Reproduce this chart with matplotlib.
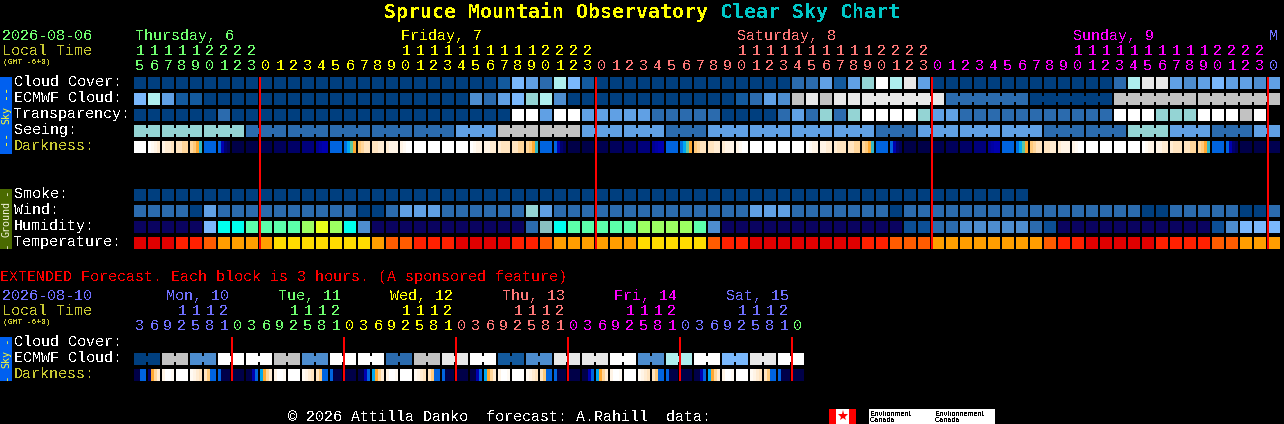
import matplotlib
matplotlib.use("Agg")
import matplotlib.pyplot as plt
from matplotlib.colors import LinearSegmentedColormap

plt.rcParams["font.family"] = "Liberation Mono"
plt.rcParams["text.antialiased"] = False

# cell colours, darkest blue to overcast white
cloud_palette = ["#003f7f", "#135a9e", "#2b6bae", "#4d8dcf", "#60a0e4", "#7ab8fc",
                 "#aeeeee", "#94d4d4", "#c2c2c2", "#e8e8e8", "#ffffff"]
humidity_palette = ["#0a0360", "#0c4f96", "#2b6bae", "#4d8dcf", "#7ab8fc", "#88c0c0",
                    "#00ffee", "#5cffaa", "#9cff62", "#e8ff1a"]
temp_palette = ["#e00000", "#ff2000", "#ff5c00", "#ff9e00", "#ffdc00"]
dark_stops = ["#ffffff", "#fff4e6", "#ffe4c0", "#ffc878", "#ffa830", "#60c8a0",
              "#00a8f0", "#0066e0", "#0000b0", "#000070", "#000048"]

main_hours = list(range(15, 24)) + list(range(24)) * 3 + [0]
main_hour_colors = ["#70ff70"] * 9 + ["#ffff00"] * 24 + ["#ff7878"] * 24 + ["#ff00ff"] * 24 + ["#7070ff"]
main_days = ["Thursday, 6", "Friday, 7", "Saturday, 8", "Sunday, 9", "M"]
main_day_cols = [0, 19, 43, 67, 81]
main_day_colors = ["#70ff70", "#ffff00", "#ff7878", "#ff00ff", "#7070ff"]

ext_hours = [3, 6, 9, 12, 15, 18, 21, 0] * 6
ext_hour_colors = (["#7070ff"] * 7 + ["#70ff70"] * 8 + ["#ffff00"] * 8 + ["#ff7878"] * 8
                   + ["#ff00ff"] * 8 + ["#7070ff"] * 8 + ["#70ff70"])
ext_days = ["Mon, 10", "Tue, 11", "Wed, 12", "Thu, 13", "Fri, 14", "Sat, 15"]
ext_day_colors = ["#7070ff", "#70ff70", "#ffff00", "#ff7878", "#ff00ff", "#7070ff"]

cloud = [0] * 26 + [1, 5, 4, 2, 6, 5, 1] + [0] * 14 + [2, 2, 4, 1, 4, 7, 10, 6, 9, 4] + [0] * 13 + \
    [2, 6, 9, 9, 4, 3, 4, 5, 4, 4, 3, 4]
ecmwf = [5, 6, 4, 1, 1] + [0] * 19 + [3, 2, 4, 5, 7, 6, 3] + [0] * 12 + [1, 2, 4, 3, 8, 9, 8, 9, 9] + [9, 2, 0, 8, 8]
ecmwf_len = [1] * 52 + [6, 6, 6, 6, 6]
transparency = [0] * 6 + [2] + [0] * 20 + [10, 10, 4, 10, 10] + [4] * 5 + [2] * 5 + [0] * 4 + \
    [2, 4, 2, 7, 2, 7, 10, 10, 10, 10, 7, 4, 4] + [2] * 11 + [10, 10, 10, 7, 7, 7, 10, 10, 10, 8, 10]
seeing = [7, 7, 7, 2, 2, 2, 2, 2, 4, 8, 8, 4, 4, 2, 4, 4, 4, 4, 2, 4, 4, 4, 2, 2, 7, 4, 2, 4]
seeing_len = [2] + [3] * 26 + [2]
smoke = [0] * 64
wind = [2, 2, 2, 2, 0, 4] + [2] * 10 + [0, 0, 2, 4, 4, 4] + [2] * 6 + [7, 4] + [2] * 14 + [4, 4, 4] + \
    [2] * 7 + [0] + [2] * 17 + [0, 0] + [2] * 5 + [0, 0, 2]
humidity = [0] * 5 + [4, 6, 6, 7, 7, 7, 7, 8, 9, 8, 6, 3] + [0] * 11 + [2, 5, 6] + [7] * 5 + [8] * 4 + [7, 3] + \
    [0] * 13 + [1, 1, 2, 2, 3, 3, 3, 3, 3, 2, 1] + [0] * 11 + [1, 3, 4, 4, 4]
temperature = [0, 0, 0, 1, 1, 2, 3, 3, 3, 3, 4, 4, 4, 4, 4, 4, 4, 3, 2, 2, 1, 1, 1, 0, 0, 0, 0, 1, 1, 2] + \
    [3] * 6 + [4] * 5 + [2, 1, 1] + [0] * 8 + [1, 1, 2, 2, 2] + [3] * 8 + [2, 1, 1] + [0] * 5 + \
    [1, 1, 1, 1, 2, 2, 3, 3, 3]

# darkness: four readings across each hour block
dark_main = [
    [0, 0, 0, 0], [0, .5, 1, 1.5], [1, 1.5, 1.5, 2], [2, 2, 2.5, 2.5], [2.5, 3, 4, 5.5], [7, 7, 7, 7],
    [7, 8, 9, 9.5], [10, 10, 10, 10], [10, 10, 10, 10], [9.8, 9.8, 9.8, 9.8], [9.5, 9.5, 9.5, 9.5],
    [9.2, 9.2, 9.2, 9.2], [8.8, 8.8, 8.8, 8.8], [8.4, 8.2, 8, 8], [7, 7, 7, 7], [6.8, 6, 5, 4],
    [3, 2.5, 2, 2], [2, 2, 1.5, 1.5], [1.5, 1, 1, 1], [1, .5, 0, 0],
    [0, 0, 0, 0], [0, 0, 0, 0], [0, 0, 0, 0], [0, 0, 0, 0], [0, .5, 1, 1], [1, 1, 1.5, 1.5],
    [1.5, 2, 2, 2], [2, 2, 2.5, 2.5], [2.5, 3, 4, 5.5], [7, 7, 7, 7], [7, 8, 9, 9.5], [10, 10, 10, 10],
    [10, 10, 10, 10], [9.8, 9.8, 9.8, 9.8], [9.5, 9.5, 9.5, 9.5], [9.2, 9.2, 9.2, 9.2], [8.8, 8.8, 8.8, 8.8],
    [8.4, 8.2, 8, 8], [7, 7, 7, 7], [6.8, 6, 5, 4], [3, 2.5, 2, 2], [2, 2, 1.5, 1.5], [1.5, 1, 1, 1],
    [1, .5, 0, 0], [0, 0, 0, 0], [0, 0, 0, 0], [0, 0, 0, 0], [0, 0, 0, 0], [0, .5, 1, 1], [1, 1, 1.5, 1.5],
    [1.5, 2, 2, 2], [2, 2, 2.5, 2.5], [2.5, 3, 4, 5.5], [7, 7, 7, 7], [7, 8, 9, 9.5], [10, 10, 10, 10],
    [10, 10, 10, 10], [9.8, 9.8, 9.8, 9.8], [9.5, 9.5, 9.5, 9.5], [9.2, 9.2, 9.2, 9.2], [8.8, 8.8, 8.8, 8.8],
    [8.4, 8.2, 8, 8], [7, 7, 7, 7], [6.8, 6, 5, 4], [3, 2.5, 2, 2], [2, 2, 1.5, 1.5], [1.5, 1, 1, 1],
    [1, .5, 0, 0], [0, 0, 0, 0], [0, 0, 0, 0], [0, 0, 0, 0], [0, 0, 0, 0], [0, .5, 1, 1], [1, 1, 1.5, 1.5],
    [1.5, 2, 2, 2], [2, 2, 2.5, 2.5], [2.5, 3, 4, 5.5], [7, 7, 7, 7], [7, 8, 9, 9.5], [10, 10, 10, 10],
    [10, 10, 10, 10], [9.8, 9.8, 9.8, 9.8],
]

ext_cloud = [0, 8, 3, 10, 10, 8, 3, 10, 10, 2, 8, 9, 10, 1, 3, 9, 9, 10, 3, 6, 10, 5, 9, 10]
ext_cloud_len = [2] * 24
ext_dark = [
    [10, 10, 7, 7], [9, 4, 2.5, 1.5], [1, 0, 0, .5], [0, 0, 0, 0], [.5, 1, 1.5, 2], [2, 3, 7, 7], [7, 10, 10, 10], [10, 10, 10, 10],
    [10, 10, 8, 7], [6, 4, 2.5, 1.5], [1, 0, 0, .5], [0, 0, 0, 0], [.5, 1, 1.5, 2], [2, 3, 7, 7], [7, 10, 10, 10], [10, 10, 10, 10],
    [10, 10, 8, 7], [6, 4, 2.5, 1.5], [1, 0, 0, .5], [0, 0, 0, 0], [.5, 1, 1.5, 2], [2, 3, 7, 7], [7, 10, 10, 10], [10, 10, 10, 10],
    [10, 10, 8, 7], [6, 4, 2.5, 1.5], [1, 0, 0, .5], [0, 0, 0, 0], [.5, 1, 1.5, 2], [2, 3, 7, 7], [7, 10, 10, 10], [10, 10, 10, 10],
    [10, 10, 8, 7], [6, 4, 2.5, 1.5], [1, 0, 0, .5], [0, 0, 0, 0], [.5, 1, 1.5, 2], [2, 3, 7, 7], [7, 10, 10, 10], [10, 10, 10, 10],
    [10, 10, 8, 7], [6, 4, 2.5, 1.5], [1, 0, 0, .5], [0, 0, 0, 0], [.5, 1, 1.5, 2], [2, 3, 7, 7], [7, 10, 10, 10], [10, 10, 10, 10],
]

LEFT = 134
PITCH = 14
CELL = 12
FONT = 10.8
dark_cmap = LinearSegmentedColormap.from_list("dark", dark_stops)


def rect(ax, x0, x1, y0, y1, color):
    ax.bar(x0, y1 - y0, width=x1 - x0, bottom=y0, align="edge", color=color, linewidth=0, antialiased=False)


def draw_blocks(ax, top, values, palette, lengths=None):
    if lengths is None:
        lengths = [1] * len(values)
    col = 0
    for value, length in zip(values, lengths):
        for i in range(length):
            x = LEFT + PITCH * (col + i)
            rect(ax, x, x + CELL, top, top + CELL, palette[value])
            # joined hours of one model step get a bridge through the gap
            if i < length - 1:
                rect(ax, x + CELL, x + PITCH, top + 3, top + 9, palette[value])
        col += length


def draw_darkness(ax, top, samples):
    for col, readings in enumerate(samples):
        x = LEFT + PITCH * col
        for i, value in enumerate(readings):
            rect(ax, x + i * CELL / 4, x + (i + 1) * CELL / 4, top, top + CELL, dark_cmap(value / 10))


def draw_hours(ax, hours, colors, tens_y, unit_y):
    for col, (hour, color) in enumerate(zip(hours, colors)):
        x = LEFT + PITCH * col + 6
        ax.text(x, unit_y, str(hour % 10), color=color, fontsize=FONT, ha="center", va="baseline")
        if hour >= 10:
            ax.text(x, tens_y, str(hour // 10), color=color, fontsize=FONT, ha="center", va="baseline")


def label(ax, x, y, text, color="white", size=FONT, **kw):
    ax.text(x, y, text, color=color, fontsize=size, ha="left", va="baseline", **kw)


def side_bar(ax, y0, y1, color, text_color, parts):
    rect(ax, 0, 12, y0, y1, color)
    for y, part, size in parts:
        ax.text(6, y, part, color=text_color, fontsize=size, rotation=90, ha="center", va="center",
                family="DejaVu Sans Mono", antialiased=True)


fig = plt.figure(figsize=(12.84, 4.24), dpi=100, facecolor="black")
ax = fig.add_axes([0, 0, 1, 1])
ax.set_xlim(0, 1284)
ax.set_ylim(424, 0)
ax.axis("off")

label(ax, 384, 18, "Spruce Mountain Observatory", color="#ffff00", size=14.35, fontweight="bold", family="DejaVu Sans Mono")
label(ax, 720, 18, "Clear Sky Chart", color="#00c8c8", size=14.35, fontweight="bold", family="DejaVu Sans Mono")

# top block
label(ax, 2, 40, "2026-08-06", color="#70ff70")
label(ax, 2, 55, "Local Time", color="#c8c832")
label(ax, 3, 64, "(GMT -6+0)", color="#c8c832", size=5.75)
for name, col, color in zip(main_days, main_day_cols, main_day_colors):
    label(ax, LEFT + PITCH * col + 1, 40, name, color=color)
draw_hours(ax, main_hours, main_hour_colors, 55, 70)

for y, name, color in [(86, "Cloud Cover:", "white"), (102, "ECMWF Cloud:", "white"), (118, "Transparency:", "white"),
                       (134, "Seeing:", "white"), (150, "Darkness:", "#c8c832"), (198, "Smoke:", "white"),
                       (214, "Wind:", "white"), (230, "Humidity:", "white"), (246, "Temperature:", "white")]:
    label(ax, 14, y, name, color=color)

draw_blocks(ax, 77, cloud, cloud_palette)
draw_blocks(ax, 93, ecmwf, cloud_palette, ecmwf_len)
draw_blocks(ax, 109, transparency, cloud_palette)
draw_blocks(ax, 125, seeing, cloud_palette, seeing_len)
draw_darkness(ax, 141, dark_main)
draw_blocks(ax, 189, smoke, cloud_palette)
draw_blocks(ax, 205, wind, cloud_palette)
draw_blocks(ax, 221, humidity, humidity_palette)
draw_blocks(ax, 237, temperature, temp_palette)

for col, hour in enumerate(main_hours):
    if hour == 0:
        x = LEFT + PITCH * col
        rect(ax, x - 1, x + 1, 77, 249, "#ff0000")

side_bar(ax, 77, 154, "#0060f0", "#ffff30", [(92, "--", 8.5), (115, "Sky", 7.2), (138, "--", 8.5)])
side_bar(ax, 189, 249, "#4a6a00", "#f4f4e0", [(193, "-", 8), (219, "Ground", 7.2), (246, "-", 8)])

# extended forecast
label(ax, 0, 281, "EXTENDED Forecast. Each block is 3 hours. (A sponsored feature)", color="#ff0000")
label(ax, 2, 300, "2026-08-10", color="#7070ff")
label(ax, 2, 315, "Local Time", color="#c8c832")
label(ax, 3, 324, "(GMT -6+0)", color="#c8c832", size=5.75)
for i, (name, color) in enumerate(zip(ext_days, ext_day_colors)):
    label(ax, 166.5 + 112 * i, 300, name, color=color)
draw_hours(ax, ext_hours, ext_hour_colors, 315, 330)

label(ax, 14, 346, "Cloud Cover:")
label(ax, 14, 362, "ECMWF Cloud:")
label(ax, 14, 378, "Darkness:", color="#c8c832")
draw_blocks(ax, 353, ext_cloud, cloud_palette, ext_cloud_len)
draw_darkness(ax, 369, ext_dark)
for col, hour in enumerate(ext_hours):
    if hour == 0:
        x = LEFT + PITCH * col
        rect(ax, x - 1, x + 1, 337, 381, "#ff0000")
side_bar(ax, 337, 381, "#0060f0", "#ffff30", [(341, "-", 8), (359, "Sky", 7.2), (378, "-", 8)])

# footer and credit logo
label(ax, 288, 421, "\u00a9 2026 Attilla Danko  forecast: A.Rahill  data:")
rect(ax, 829, 856, 409, 424, "white")
rect(ax, 829, 836, 409, 424, "#ff0000")
rect(ax, 849, 856, 409, 424, "#ff0000")
ax.plot([842.5], [416], marker="*", color="#ff0000", markersize=8, markeredgewidth=0, linestyle="none")
rect(ax, 869, 995, 409, 424, "white")
for x, top_word, bottom_word in [(870, "Environment", "Canada"), (935, "Environnement", "Canada")]:
    ax.text(x, 415.5, top_word, color="black", fontsize=5.2, family="Liberation Sans", va="baseline")
    ax.text(x, 422.5, bottom_word, color="black", fontsize=5.2, family="Liberation Sans", va="baseline")

ax.set_xlim(0, 1284)
ax.set_ylim(424, 0)
fig.savefig("out.png", dpi=100, facecolor="black")
